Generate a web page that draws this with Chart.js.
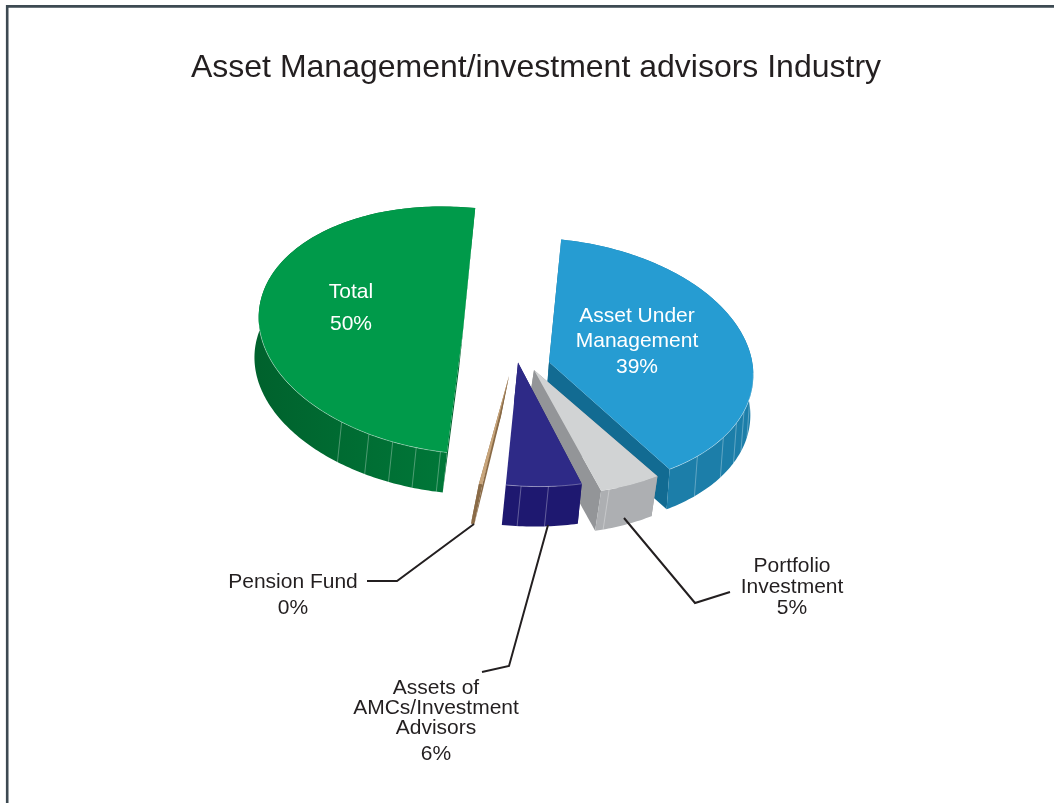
<!DOCTYPE html>
<html>
<head>
<meta charset="utf-8">
<style>html,body{margin:0;padding:0;background:#fff;overflow:hidden}canvas{display:block}</style>
<script src="https://cdn.jsdelivr.net/npm/chart.js@4"></script>
</head>
<body>
<canvas id="c" width="1054" height="803"></canvas>
<script>
const categories = ['Asset Under Management', 'Portfolio Investment', 'Assets of AMCs/Investment Advisors', 'Pension Fund', 'Total'];
const shares = [39, 5, 6, 0.3, 49.7];
const topColors = ['#269cd2', '#d1d3d4', '#2e2a87', '#c9a67c', '#009a4a'];

const FONT = '"Liberation Sans", Arial, sans-serif';
const INK = '#231f20';
const TILT = 5.7 * Math.PI / 180;
const SQUASH = 0.6;
const DEG = Math.PI / 180;

// Appearance of each slice, in category order: how it is pulled out and how its walls look.
const sliceLook = [
  {sx: 13, sy: 17, dx: -3, dy: 40, turn: 0, radial: 1, rim: 1, outer: '#1c7ea9', inner: '#126b92', facets: [130, 118, 110, 104, 97]},
  {sx: -2, sy: 25, dx: -6, dy: 40, turn: -1, radial: 1, rim: 0, outer: '#adafb2', inner: '#939598', facets: [156]},
  {sx: -18, sy: 17.5, dx: -4, dy: 40, turn: 0, radial: 1, rim: 1, outer: '#1e1870', inner: '#1e1870', facets: [168, 175.7]},
  {sx: -27, sy: 31, dx: -8, dy: 40, turn: 4.9, radial: 0.9, rim: 0, outer: '#8a6b47', inner: '#8a6b47', facets: []},
  {sx: -73, sy: -14.5, dx: -4.2, dy: 40, turn: 0, radial: 1, rim: 1, outer: ['#00622d', '#007a3a'], inner: '#00622d', facets: [182.9, 189.8, 196.7, 204, 213]}
];
const paintOrder = [0, 4, 1, 2, 3];

const calloutText = [
  {slice: 0, lines: ['Asset Under', 'Management'], x: 637, ys: [316, 341, 367], color: '#fff'},
  {slice: 1, lines: ['Portfolio', 'Investment'], x: 792, ys: [566, 587, 608], color: INK},
  {slice: 2, lines: ['Assets of', 'AMCs/Investment', 'Advisors'], x: 436, ys: [688, 708, 728, 754], color: INK},
  {slice: 3, lines: ['Pension Fund'], x: 293, ys: [582, 608], color: INK},
  {slice: 4, lines: ['Total'], x: 351, ys: [292, 324], color: '#fff'}
];
const leaderLines = [
  [[624, 518], [695, 603], [730, 592]],
  [[548, 525], [509, 666], [482, 672]],
  [[474, 524], [397, 581], [367, 581]]
];

function projector(arc, look) {
  return function (angle, r, down) {
    const a = angle + look.turn * DEG;
    const rr = r * look.radial;
    const ux = rr * Math.cos(a), uy = SQUASH * rr * Math.sin(a);
    const px = ux * Math.cos(TILT) - uy * Math.sin(TILT);
    const py = ux * Math.sin(TILT) + uy * Math.cos(TILT);
    return [arc.x + look.sx + px + (down ? look.dx : 0), arc.y + look.sy + py + (down ? look.dy : 0)];
  };
}
function polygon(ctx, pts) {
  ctx.beginPath();
  pts.forEach((p, i) => i ? ctx.lineTo(p[0], p[1]) : ctx.moveTo(p[0], p[1]));
  ctx.closePath();
}
function clockToAngle(deg) { return (deg - 90) * DEG; }

function paintSlice(ctx, arc, look) {
  const at = projector(arc, look);
  const R = arc.outerRadius, a0 = arc.startAngle, a1 = arc.endAngle;
  // radial walls
  ctx.fillStyle = look.inner;
  [a0, a1].forEach(a => {
    polygon(ctx, [at(a, 0, false), at(a, R, false), at(a, R, true), at(a, 0, true)]);
    ctx.fill();
  });
  // outer wall
  const n = Math.max(4, Math.ceil((a1 - a0) / (1 * DEG)));
  const upper = [], lower = [];
  for (let i = 0; i <= n; i++) {
    const a = a0 + (a1 - a0) * i / n;
    upper.push(at(a, R, false));
    lower.unshift(at(a, R, true));
  }
  if (Array.isArray(look.outer)) {
    const xs = upper.map(p => p[0]);
    const g = ctx.createLinearGradient(Math.min(...xs), 0, Math.max(...xs), 0);
    g.addColorStop(0, look.outer[0]);
    g.addColorStop(1, look.outer[1]);
    ctx.fillStyle = g;
  } else {
    ctx.fillStyle = look.outer;
  }
  polygon(ctx, upper.concat(lower));
  ctx.fill();
  // facet seams on the wall
  ctx.strokeStyle = 'rgba(255,255,255,0.38)';
  ctx.lineWidth = 0.8;
  look.facets.forEach(d => {
    const a = clockToAngle(d);
    const p = at(a, R, false), q = at(a, R, true);
    ctx.beginPath(); ctx.moveTo(p[0], p[1]); ctx.lineTo(q[0], q[1]); ctx.stroke();
  });
  // top face: the library's own arc element under the tilt
  ctx.save();
  ctx.translate(arc.x + look.sx, arc.y + look.sy);
  ctx.rotate(TILT);
  ctx.scale(look.radial, SQUASH * look.radial);
  ctx.rotate(look.turn * DEG);
  ctx.translate(-arc.x, -arc.y);
  arc.draw(ctx);
  ctx.restore();
  // pale line along the front rim
  if (look.rim) {
    ctx.strokeStyle = 'rgba(255,255,255,0.45)';
    ctx.lineWidth = 0.7;
    ctx.beginPath();
    let pen = false;
    for (let i = 0; i <= n; i++) {
      const a = a0 + (a1 - a0) * i / n;
      if (Math.sin(a + TILT) > 0.02) {
        const p = at(a, R, false);
        pen ? ctx.lineTo(p[0], p[1]) : ctx.moveTo(p[0], p[1]);
        pen = true;
      }
    }
    ctx.stroke();
  }
}

const pie3d = {
  id: 'pie3d',
  beforeDraw(chart) {
    const ctx = chart.ctx;
    ctx.save();
    ctx.strokeStyle = '#3d4a52';
    ctx.lineWidth = 2.6;
    ctx.beginPath();
    ctx.moveTo(7.2, 803); ctx.lineTo(7.2, 6.4); ctx.lineTo(1054, 6.4);
    ctx.stroke();
    ctx.restore();
  },
  beforeDatasetDraw(chart, args) {
    const ctx = chart.ctx;
    const arcs = chart.getDatasetMeta(args.index).data;
    paintOrder.forEach(i => paintSlice(ctx, arcs[i], sliceLook[i]));
    return false;
  },
  afterDraw(chart) {
    const ctx = chart.ctx;
    ctx.save();
    ctx.strokeStyle = INK;
    ctx.lineWidth = 2;
    ctx.lineJoin = 'miter';
    leaderLines.forEach(pts => {
      ctx.beginPath();
      pts.forEach((p, i) => i ? ctx.lineTo(p[0], p[1]) : ctx.moveTo(p[0], p[1]));
      ctx.stroke();
    });
    ctx.font = '21px ' + FONT;
    ctx.textAlign = 'center';
    ctx.textBaseline = 'middle';
    calloutText.forEach(c => {
      ctx.fillStyle = c.color;
      c.lines.forEach((t, i) => ctx.fillText(t, c.x, c.ys[i]));
      ctx.fillText(Math.round(shares[c.slice]) + '%', c.x, c.ys[c.lines.length]);
    });
    ctx.restore();
  }
};

new Chart(document.getElementById('c'), {
  type: 'pie',
  data: {
    labels: categories,
    datasets: [{
      data: shares,
      backgroundColor: topColors,
      borderWidth: 0,
      radius: 205
    }]
  },
  options: {
    responsive: false,
    animation: false,
    rotation: 0,
    layout: {padding: {left: 18, bottom: 213}},
    plugins: {
      legend: {display: false},
      tooltip: {enabled: false},
      title: {
        display: true,
        text: 'Asset Management/investment advisors Industry',
        color: INK,
        font: {family: FONT, size: 32, weight: 'normal', lineHeight: 1.2},
        padding: {top: 49, bottom: 12.6}
      }
    }
  },
  plugins: [pie3d]
});
</script>
</body>
</html>
